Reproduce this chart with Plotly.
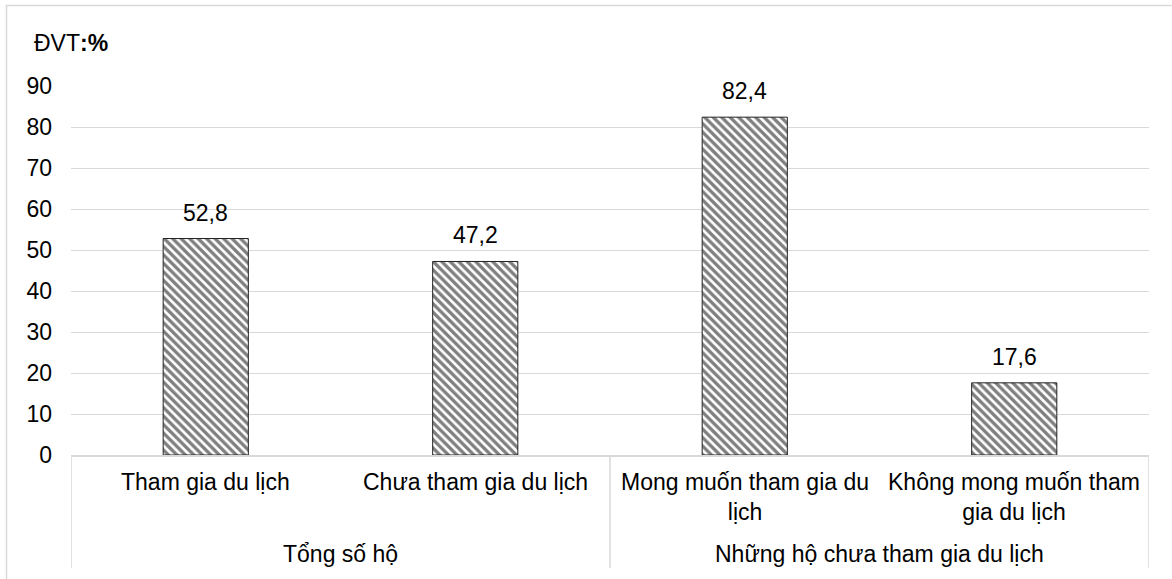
import plotly.graph_objects as go

# ---- data ----
categories = ["Tham gia du lịch", "Chưa tham gia du lịch",
              "Mong muốn tham gia du<br>lịch", "Không mong muốn tham<br>gia du lịch"]
groups = ["Tổng số hộ", "Những hộ chưa tham gia du lịch"]
group_members = [[0, 1], [2, 3]]
values = [52.8, 47.2, 82.4, 17.6]
unit_label = "ĐVT<b>:%</b>"
y_ticks = [0, 10, 20, 30, 40, 50, 60, 70, 80, 90]

# ---- layout geometry (pixels) ----
W, H = 1172, 579
L, R, T, B = 71, 1149, 86, 455
pw, ph = R - L, B - T

def px_x(p):
    return (p - L) / pw

def px_y(p):
    return (B - p) / ph

FONT = "Liberation Sans, Arial, sans-serif"
GRID = "#d9d9d9"
fs = 23

x_idx = list(range(len(categories)))

fig = go.Figure()
fig.add_trace(go.Bar(
    x=x_idx, y=values,
    width=0.316,
    marker=dict(color="white", line=dict(color="#222222", width=1),
                pattern=dict(shape="\\", fgcolor="#000000", bgcolor="white",
                             size=6, solidity=0.55)),
    hoverinfo="skip",
))

annotations = []
# value labels
for xi, v in zip(x_idx, values):
    annotations.append(dict(x=xi, y=v, xref="x", yref="y",
                            text=f"{v:.1f}".replace(".", ","),
                            showarrow=False, yanchor="bottom", yshift=11,
                            font=dict(size=fs, color="#000", family=FONT)))
# category labels
for xi, c in zip(x_idx, categories):
    annotations.append(dict(x=xi, y=px_y(467), xref="x", yref="paper",
                            text=c, showarrow=False, yanchor="top",
                            font=dict(size=fs, color="#000", family=FONT)))
# group labels
for g, mem in zip(groups, group_members):
    annotations.append(dict(x=sum(mem) / len(mem), y=px_y(554), xref="x", yref="paper",
                            text=g, showarrow=False, yanchor="middle",
                            font=dict(size=fs, color="#000", family=FONT)))
# unit label
annotations.append(dict(x=px_x(32), y=px_y(43), xref="paper", yref="paper",
                        text=unit_label, showarrow=False, xanchor="left", yanchor="middle",
                        font=dict(size=fs, color="#000", family=FONT)))

shapes = []
# dividers
for xd in [-0.5, 1.5, 3.5]:
    shapes.append(dict(type="line", xref="x", yref="paper", x0=xd, x1=xd,
                       y0=0, y1=px_y(568), line=dict(color=GRID, width=1.5)))
# chart border
shapes.append(dict(type="rect", xref="paper", yref="paper",
                   x0=px_x(6.5), x1=px_x(1190), y0=px_y(600), y1=px_y(5.5),
                   line=dict(color=GRID, width=1.5), fillcolor="rgba(0,0,0,0)"))

fig.update_layout(
    width=W, height=H,
    margin=dict(l=L, r=W - R, t=T, b=H - B, pad=0),
    paper_bgcolor="white", plot_bgcolor="white",
    showlegend=False,
    font=dict(family=FONT, size=fs, color="#000"),
    annotations=annotations, shapes=shapes,
    xaxis=dict(range=[-0.5, 3.5], showticklabels=False, showgrid=False,
               zeroline=False, showline=True, linecolor=GRID, linewidth=1.5,
               ticks="", fixedrange=True),
    yaxis=dict(range=[0, 90], tickvals=y_ticks, showgrid=True, gridcolor=GRID,
               gridwidth=1, zeroline=False, showline=False, ticks="",
               ticklabelstandoff=18, tickfont=dict(size=fs, family=FONT, color="#000"),
               fixedrange=True),
)

fig.write_html("out.html", config={"displayModeBar": False},
               post_script="document.body.style.margin='0';document.body.style.overflow='hidden';")
